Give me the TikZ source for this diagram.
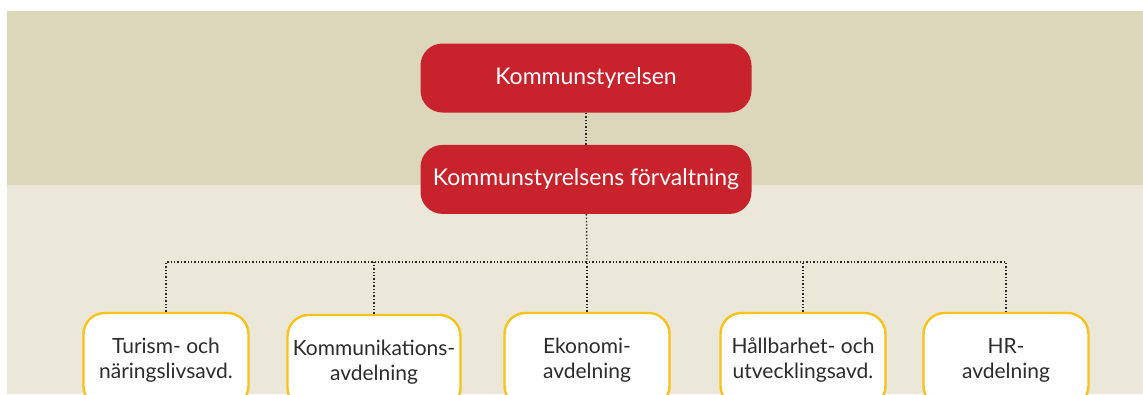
\documentclass[tikz,border=0pt]{standalone}
\usepackage{fontspec}
\setmainfont{Lato}
\usepackage{tikz}
\usetikzlibrary{positioning}
\definecolor{bgtop}{HTML}{DCD7BA}
\definecolor{bgbot}{HTML}{ECE8D9}
\definecolor{ksred}{HTML}{C8222D}
\definecolor{avdgold}{HTML}{F7C31A}
\definecolor{avdtext}{HTML}{2C2C2C}
\begin{document}
\begin{tikzpicture}[x=1pt,y=-1pt,node distance=32pt,
    head/.style={fill=ksred, text=white, rounded corners=22pt, inner sep=0pt, minimum width=331pt, minimum height=69pt, font=\fontsize{23}{27}\selectfont},
    avd/.style={draw=avdgold, line width=2.4pt, fill=white, rounded corners=21pt, inner sep=0pt, minimum width=165pt, minimum height=94pt, align=center, text=avdtext, font=\fontsize{21}{25}\selectfont},
    conn/.style={dotted, line width=1.4pt, black!85}]
    \useasboundingbox (0,0) rectangle (1143,394);
    \fill[white] (0,0) rectangle (1143,394);
    \fill[bgtop] (7,11) rectangle (1143,185);
    \fill[bgbot] (7,185) rectangle (1143,394);

    \node[head] (ks) at (586,78) {Kommunstyrelsen};
    \node[head] (ksf) [below = of ks] {Kommunstyrelsens förvaltning};

    \begin{scope}
        \clip (0,0) rectangle (1143,394);
        \node[avd] (turism) at (166,360) {Turism- och\\näringslivsavd.};
        \node[avd, minimum width=173pt] (komm) at (374,362) {Kommunikations-\\avdelning};
        \node[avd] (ekonomi) at (587,360) {Ekonomi-\\avdelning};
        \node[avd] (hallbar) at (803,360) {Hållbarhet- och\\utvecklingsavd.};
        \node[avd] (hr) at (1006,360) {HR-\\avdelning};
    \end{scope}

    \coordinate (bus) at (587,262);

    \draw[conn] (ks) -- (ksf);
    \draw[conn] (ksf) -- (bus);
    \draw[conn] (turism.north) |- (bus) -| (hr.north);
    \draw[conn] (komm.north) -- (komm.north |- bus);
    \draw[conn] (ekonomi.north) -- (bus);
    \draw[conn] (hallbar.north) -- (hallbar.north |- bus);
\end{tikzpicture}
\end{document}
